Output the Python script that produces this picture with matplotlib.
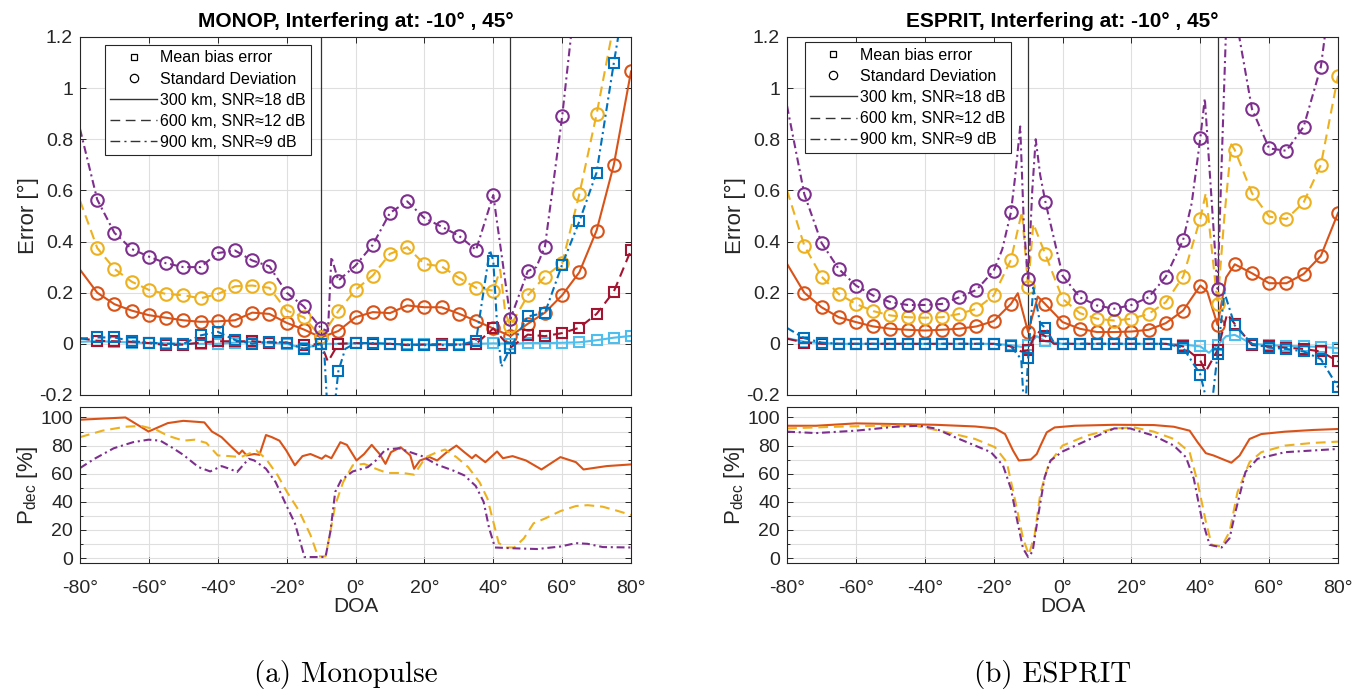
import numpy as np
import matplotlib.pyplot as plt
from matplotlib.lines import Line2D
from matplotlib.ticker import MultipleLocator, FuncFormatter

plt.rcParams['font.family'] = ['Liberation Sans', 'DejaVu Sans']
plt.rcParams['axes.unicode_minus'] = False
plt.rcParams['mathtext.default'] = 'regular'

# ---------------- Monopulse: standard deviation [deg] ----------------
mono_sd_300_x = [-80, -75, -70, -65, -60, -55, -50, -45, -40, -35, -30, -25, -20, -15, -10, -5, 0, 5, 10, 15,
                 20, 25, 30, 35, 40, 45, 50, 55, 60, 65, 70, 75, 80]
mono_sd_300_y = [0.29, 0.20, 0.155, 0.13, 0.112, 0.102, 0.092, 0.086, 0.088, 0.092, 0.122, 0.117, 0.082, 0.056,
                 0.025, 0.05, 0.104, 0.124, 0.12, 0.15, 0.143, 0.143, 0.118, 0.09, 0.06, 0.03, 0.078, 0.122,
                 0.19, 0.28, 0.443, 0.70, 1.065]

mono_sd_600_x = [-80, -75, -70, -65, -60, -55, -50, -45, -40, -35, -30, -25, -20, -15, -10, -5, 0, 5, 10, 15,
                 20, 25, 30, 35, 40, 42, 43.5, 45, 50, 55, 60, 65, 70, 75, 80]
mono_sd_600_y = [0.56, 0.375, 0.293, 0.243, 0.211, 0.195, 0.19, 0.178, 0.195, 0.225, 0.228, 0.219, 0.13, 0.104,
                 0.026, 0.128, 0.211, 0.267, 0.352, 0.378, 0.312, 0.303, 0.258, 0.219, 0.208, 0.29, 0.12,
                 0.07, 0.189, 0.263, 0.315, 0.586, 0.898, 1.25, 1.7]

mono_sd_900_x = [-80, -75, -70, -65, -60, -55, -50, -45, -40, -35, -30, -25, -20, -15, -10, -8, -7, -5, 0, 5,
                 10, 15, 20, 25, 30, 35, 40, 45, 50, 52.5, 55, 60, 65, 70, 75, 80]
mono_sd_900_y = [0.84, 0.564, 0.434, 0.371, 0.341, 0.315, 0.30, 0.30, 0.355, 0.365, 0.326, 0.303, 0.20, 0.146,
                 0.06, 0.05, 0.34, 0.247, 0.306, 0.387, 0.512, 0.557, 0.492, 0.458, 0.423, 0.367, 0.582,
                 0.098, 0.284, 0.30, 0.38, 0.889, 1.5, 2.2, 3.0, 4.0]

# ---------------- Monopulse: mean bias error [deg] ----------------
mono_b_300_x = [-80, -75, -70, -65, -60, -55, -50, -45, -40, -35, -30, -25, -20, -15, -10, -5, 0, 5, 10, 15,
                20, 25, 30, 35, 40, 45, 50, 55, 60, 65, 70, 75, 80]
mono_b_300_y = [0.008, 0.01, 0.008, 0.005, 0.003, 0.002, 0.0, 0.0, 0.0, 0.005, 0.008, 0.005, 0.0, -0.018,
                0.0, 0.0, 0.002, 0.002, 0.0, -0.002, -0.002, -0.002, -0.002, 0.0, 0.002, 0.0, 0.003, 0.003,
                0.004, 0.006, 0.014, 0.024, 0.031]

mono_b_600_x = [-80, -75, -70, -65, -60, -55, -50, -45, -40, -35, -30, -25, -20, -15, -10, -8, -5, 0, 5, 10,
                15, 20, 25, 30, 35, 40, 45, 50, 55, 60, 65, 70, 75, 80]
mono_b_600_y = [0.022, 0.012, 0.01, 0.008, 0.003, -0.005, -0.003, 0.005, 0.01, 0.01, 0.01, 0.005, 0.005,
                -0.005, 0.0, -0.07, 0.0, 0.003, 0.0, 0.0, -0.005, -0.003, -0.002, -0.003, 0.0, 0.06, -0.015,
                0.036, 0.03, 0.042, 0.063, 0.117, 0.204, 0.367]

mono_b_900_x = [-80, -75, -70, -65, -60, -55, -50, -45, -40, -35, -30, -25, -20, -15, -10, -9, -8, -6.5, -5,
                -3, 0, 5, 10, 15, 20, 25, 30, 35, 39, 40, 41, 42.3, 45, 50, 55, 60, 65, 70, 75, 80]
mono_b_900_y = [0.02, 0.025, 0.025, 0.01, 0.005, 0.0, 0.0, 0.033, 0.047, 0.015, 0.0, 0.008, 0.005, -0.02,
                0.0, -0.05, -0.3, -0.3, -0.108, -0.02, 0.003, 0.003, 0.0, -0.003, -0.005, -0.005, -0.005,
                0.012, 0.367, 0.325, 0.1, -0.09, -0.016, 0.107, 0.121, 0.31, 0.479, 0.67, 1.098, 1.5]

# ---------------- ESPRIT: standard deviation [deg] ----------------
esp_sd_300_x = [-80, -75, -70, -65, -60, -55, -50, -45, -40, -35, -30, -25, -20, -15, -13, -10, -7.2, -5, 0,
                5, 10, 15, 20, 25, 30, 35, 40, 42, 45, 47.5, 50, 55, 60, 65, 70, 75, 80]
esp_sd_300_y = [0.3125, 0.20, 0.143, 0.104, 0.085, 0.068, 0.059, 0.055, 0.052, 0.055, 0.059, 0.068, 0.089,
                0.156, 0.198, 0.046, 0.185, 0.155, 0.085, 0.059, 0.046, 0.046, 0.048, 0.055, 0.081, 0.13,
                0.228, 0.205, 0.074, 0.26, 0.311, 0.276, 0.237, 0.237, 0.273, 0.344, 0.512]

esp_sd_600_x = [-80, -75, -70, -65, -60, -55, -50, -45, -40, -35, -30, -25, -20, -15, -11.8, -10, -8.5, -5,
                0, 5, 10, 15, 20, 25, 30, 35, 40, 41.6, 45, 47, 49, 50, 55, 60, 65, 70, 75, 80]
esp_sd_600_y = [0.60, 0.384, 0.263, 0.195, 0.156, 0.128, 0.111, 0.104, 0.102, 0.104, 0.117, 0.137, 0.189,
                0.328, 0.517, 0.222, 0.47, 0.35, 0.176, 0.12, 0.098, 0.091, 0.098, 0.117, 0.163, 0.263, 0.49,
                0.59, 0.156, 0.5, 0.78, 0.758, 0.589, 0.497, 0.488, 0.553, 0.70, 1.048]

esp_sd_900_x = [-80, -75, -70, -65, -60, -55, -50, -45, -40, -35, -30, -25, -20, -17.5, -15, -13.8, -12.3,
                -11.2, -10, -8.8, -7.8, -6.5, -5, 0, 5, 10, 15, 20, 25, 30, 35, 37.5, 40, 41.3, 45, 48, 50,
                55, 60, 65, 70, 75, 80]
esp_sd_900_y = [0.93, 0.586, 0.395, 0.293, 0.228, 0.189, 0.163, 0.152, 0.152, 0.156, 0.182, 0.211, 0.286,
                0.37, 0.514, 0.65, 0.85, 0.45, 0.255, 0.60, 0.80, 0.66, 0.556, 0.267, 0.182, 0.150, 0.137,
                0.152, 0.182, 0.263, 0.406, 0.55, 0.805, 0.96, 0.215, 1.45, 1.3, 0.918, 0.764, 0.755, 0.849,
                1.083, 1.6]

# ---------------- ESPRIT: mean bias error [deg] ----------------
esp_b_300_x = [-80, -75, -70, -65, -60, -55, -50, -45, -40, -35, -30, -25, -20, -15, -12, -10, -7.5, -5, 0, 5,
               10, 15, 20, 25, 30, 35, 40, 42.5, 45, 47.5, 50, 55, 60, 65, 70, 75, 80]
esp_b_300_y = [0.022, 0.008, 0.003, 0.0, 0.0, 0.0, 0.0, 0.0, 0.0, 0.0, 0.0, 0.0, 0.0, -0.005, -0.012, -0.006,
               0.03, 0.01, 0.0, 0.0, 0.0, 0.0, 0.0, 0.0, 0.0, -0.003, -0.01, -0.035, -0.005, 0.03, 0.035, 0.0,
               -0.005, -0.008, -0.01, -0.012, -0.017]

esp_b_600_x = [-80, -75, -70, -65, -60, -55, -50, -45, -40, -35, -30, -25, -20, -15, -12, -10, -7.5, -5, -2.5,
               0, 5, 10, 15, 20, 25, 30, 35, 40, 41.5, 45, 47.8, 50, 55, 60, 65, 70, 75, 80]
esp_b_600_y = [0.02, 0.005, 0.0, 0.0, 0.0, 0.0, 0.0, 0.0, 0.0, 0.0, 0.0, 0.0, 0.0, -0.01, -0.03, -0.026,
               0.05, 0.03, 0.0, 0.0, 0.0, 0.0, 0.0, 0.0, 0.0, 0.0, -0.01, -0.065, -0.11, -0.025, 0.117, 0.078,
               -0.005, -0.01, -0.015, -0.02, -0.03, -0.069]

esp_b_900_x = [-80, -75, -70, -65, -60, -55, -50, -45, -40, -35, -30, -25, -20, -15, -12, -11, -10, -8.5,
               -6.5, -5, -2.5, 0, 5, 10, 15, 20, 25, 30, 35, 40, 41.8, 43.5, 45, 47, 50, 55, 60, 65, 70, 75, 80]
esp_b_900_y = [0.062, 0.022, 0.005, 0.0, 0.0, 0.0, 0.0, 0.0, 0.0, 0.0, 0.0, 0.0, 0.0, -0.01, -0.06, -0.3,
               -0.056, 0.22, 0.08, 0.062, 0.005, 0.0, 0.0, 0.0, 0.0, 0.0, 0.0, 0.0, -0.015, -0.12, -0.22,
               -0.22, -0.04, 0.2, 0.072, 0.0, -0.015, -0.02, -0.03, -0.06, -0.17]

# ---------------- Probability of detection [%] ----------------
mono_pd_300_x = [-80, -66.8, -60.1, -54.5, -50, -43.9, -41.7, -38.9, -36, -33.8, -32.9, -31.6, -29.4, -27.9,
                 -26, -24.3, -22.1, -20.1, -17.6, -15.4, -13.1, -9.8, -8.7, -7, -4.4, -2.5, 0.3, 2.5, 4.7, 7,
                 8.7, 10.3, 13.1, 15.9, 17, 18.7, 21.5, 23.7, 26.5, 29.3, 31.6, 33.8, 34.9, 37.7, 41.1, 42.8,
                 45.6, 49.5, 54, 59.5, 64, 66.2, 72.9, 80]
mono_pd_300_y = [98.4, 100, 90, 96, 97.6, 96.5, 90, 86, 79, 74, 76.5, 73, 74, 73.4, 87.5, 86, 83.5, 76.5, 66,
                 72.5, 74, 70.6, 73, 71, 82.4, 80.5, 69.4, 74, 80.5, 74, 67, 75.3, 78.8, 73, 63.5, 69.4, 71.8,
                 69.4, 75.3, 80, 75.3, 71, 73.4, 68.2, 75.8, 71, 72.5, 69.4, 63, 71.8, 68.2, 63, 65.4, 66.6]

mono_pd_600_x = [-80, -73.5, -66.8, -62.3, -57.9, -54.5, -50, -46.7, -43.3, -40, -36.6, -33.3, -28.8, -26,
                 -22.6, -19.9, -16.5, -13.1, -10.9, -8.7, -7.3, -5.9, -3.6, -0.8, 2.5, 5.9, 9.2, 13.7, 17,
                 20.4, 23.7, 26, 29.3, 32.7, 36, 38.3, 40, 41.6, 43.9, 46.1, 48.9, 51.7, 55.1, 59.5, 64, 67.4,
                 71.8, 76.3, 80]
mono_pd_600_y = [86, 90.6, 93.4, 94, 91.3, 87, 83.5, 84.2, 81.9, 73, 72.5, 71.8, 76.5, 70.6, 58.8, 47, 34,
                 16.5, 1.2, 1.2, 18.8, 37.6, 54, 66, 67, 63.5, 60.5, 60.5, 59.3, 71.8, 75.3, 77.2, 71.8, 64.7,
                 54, 42.4, 25.9, 10.6, 7.5, 7.5, 14, 24.7, 28.2, 33.4, 37, 37.6, 36.5, 33.4, 30.6]

mono_pd_900_x = [-80, -75.8, -70.2, -64.6, -60.1, -56.7, -53.4, -50, -45.6, -42.2, -38.9, -36.6, -34.4, -31,
                 -29.4, -26, -23.2, -19.9, -17.6, -14.8, -8.7, -7.3, -5.9, -4.2, -0.8, 3.6, 5.9, 8.7, 12.6,
                 15.9, 19.3, 23.7, 28.2, 31.6, 34.9, 37.2, 38.8, 40.5, 45, 52.8, 59.5, 64, 67.4, 71.8, 80]
mono_pd_900_y = [64, 70.6, 78.1, 82.4, 84.2, 83.5, 78.8, 73.4, 64.7, 61.6, 65.4, 63.5, 61.2, 70.6, 69.4, 63.5,
                 54, 36.5, 24.7, 0.7, 0.7, 18.8, 47, 55.3, 61.6, 64.7, 69.4, 77.2, 78.1, 75.3, 72.5, 66.4,
                 62.4, 58.8, 51.3, 40, 21.2, 7.5, 7, 6.4, 8.2, 10.6, 10.1, 7.8, 7.5]

esp_pd_300_x = [-80, -71.6, -60, -48.5, -37, -25.4, -19.6, -16.7, -14.4, -12.7, -9.2, -7.5, -6.4, -4.6, -2.3,
                3.5, 15, 26.5, 32.3, 36.9, 39.2, 41.6, 43.9, 46.2, 49, 51.4, 54.3, 57.7, 64.6, 72.7, 80]
esp_pd_300_y = [94.1, 94.1, 95.8, 95.3, 94.8, 93.6, 92.2, 88.2, 76.5, 69.4, 70.1, 74, 80, 89.4, 92.9, 94.1,
                94.8, 94.6, 93.4, 90.6, 82.4, 74.6, 72.9, 70.6, 67.8, 72.9, 84.7, 88.2, 89.9, 91.1, 91.8]

esp_pd_600_x = [-80, -65.8, -54.3, -42.7, -33.5, -25.4, -19.6, -16.2, -13.9, -11.5, -9.8, -8.1, -6.4, -4, 0,
                6.9, 15, 20.8, 26.5, 32.3, 36.9, 39.2, 41.6, 43.3, 46.2, 48.5, 50.8, 54.3, 57.7, 64.6, 72.7, 80]
esp_pd_600_y = [92.2, 93.4, 94.1, 94.1, 89.4, 84.7, 78.8, 68.2, 42.4, 14.1, 2.4, 16.5, 47, 67, 80, 87, 92.2,
                92.9, 89.9, 84.7, 75.3, 54, 25.9, 9.4, 8.2, 18.8, 47, 68.2, 75.3, 80, 81.9, 82.8]

esp_pd_900_x = [-80, -71.6, -60, -48.5, -41.6, -37, -31.2, -25.4, -20.8, -17.3, -15, -13.3, -11.5, -10, -8.7,
                -6.9, -5.2, -3.5, 0, 6.9, 15, 19.6, 26.5, 32.3, 35.8, 38.1, 40.4, 42.7, 46.2, 48.5, 50.2, 53.1,
                56.6, 64.6, 80]
esp_pd_900_y = [89.9, 88.9, 90.6, 93.4, 94.1, 92.2, 85.9, 80, 75.3, 65.9, 49.4, 28.2, 7, 0.7, 4.7, 32.9, 57.6,
                69.4, 75.8, 83.5, 92.2, 92.2, 87, 80, 71.8, 56.5, 28.2, 9.4, 7.5, 14.1, 32.9, 61.2, 70.6, 75.3,
                77.6]

interferers = [-10, 45]
doa_ticks = [-80, -60, -40, -20, 0, 20, 40, 60, 80]

# MATLAB default colour order
BLUE, ORANGE, YELLOW, PURPLE, LBLUE, DRED = '#0072BD', '#D95319', '#EDB120', '#7E2F8E', '#4DBEEE', '#A2142F'
AX_COL = '#262626'
GRID_COL = '#dfdfdf'

# MATLAB-like dash patterns (scaled by line width)
SOLID = '-'
DASHED = (0, (4.7, 2.8))
DASHDOT = (0, (3.8, 1.8, 1.0, 1.8))


def marker_mask(xs):
    # markers only on the 5 degree grid, starting at -75
    xs = np.asarray(xs, dtype=float)
    return (np.isclose(np.mod(xs, 5), 0) | np.isclose(np.mod(xs, 5), 5)) & (xs >= -75)


def style_axes(ax):
    ax.set_xlim(-80, 80)
    ax.set_xticks(doa_ticks)
    ax.grid(True, which='both', color=GRID_COL, lw=0.8)
    ax.set_axisbelow(True)
    ax.tick_params(which='both', direction='in', top=True, right=True, colors=AX_COL, labelsize=14,
                   width=0.7)
    ax.tick_params(which='major', length=4)
    ax.tick_params(which='minor', length=2.5)
    ax.tick_params(axis='y', pad=5)
    ax.tick_params(axis='x', pad=12)
    for s in ax.spines.values():
        s.set_color(AX_COL)
        s.set_linewidth(0.8)


def error_panel(ax, title, series):
    for xs, ys, col, ls, mk in series:
        ms = 9 if mk == 'o' else 6.5
        ax.plot(xs, ys, color=col, ls=ls, lw=1.5, marker=mk, ms=ms, mfc='none', mew=1.5,
                markevery=list(marker_mask(xs)))
    for xi in interferers:
        ax.axvline(xi, color='#333333', lw=0.9, zorder=1.5)
    style_axes(ax)
    ax.set_ylim(-0.2, 1.2)
    ax.set_yticks(np.arange(-0.2, 1.21, 0.2))
    ax.yaxis.set_major_formatter(FuncFormatter(lambda v, p: f'{round(v, 1):g}'))
    ax.tick_params(labelbottom=False)
    ax.set_ylabel('Error [°]', fontsize=16, color=AX_COL, labelpad=0)
    ax.set_title(title, fontsize=15, fontweight='bold', pad=7)


def pdec_panel(ax, series):
    for xs, ys, col, ls in series:
        ax.plot(xs, ys, color=col, ls=ls, lw=1.5)
    style_axes(ax)
    ax.set_ylim(-3.5, 107.5)
    ax.yaxis.set_major_locator(MultipleLocator(20))
    ax.yaxis.set_minor_locator(MultipleLocator(10))
    ax.xaxis.set_major_formatter(FuncFormatter(lambda v, p: f'{v:g}°'))
    ax.set_ylabel('P$_{dec}$ [%]', fontsize=16, color=AX_COL, labelpad=0)
    ax.set_xlabel('DOA', fontsize=15, color=AX_COL, labelpad=0)


fig = plt.figure(figsize=(13.7, 6.95), dpi=100)

ax_me = fig.add_axes([0.0584, 0.4317, 0.4022, 0.5151])
ax_mp = fig.add_axes([0.0584, 0.19, 0.4022, 0.2245])
ax_ee = fig.add_axes([0.5745, 0.4317, 0.4022, 0.5151])
ax_ep = fig.add_axes([0.5745, 0.19, 0.4022, 0.2245])

error_panel(ax_me, 'MONOP, Interfering at: -10° , 45°', [
    (mono_sd_300_x, mono_sd_300_y, ORANGE, SOLID, 'o'),
    (mono_sd_600_x, mono_sd_600_y, YELLOW, DASHED, 'o'),
    (mono_sd_900_x, mono_sd_900_y, PURPLE, DASHDOT, 'o'),
    (mono_b_300_x, mono_b_300_y, LBLUE, SOLID, 's'),
    (mono_b_600_x, mono_b_600_y, DRED, DASHED, 's'),
    (mono_b_900_x, mono_b_900_y, BLUE, DASHDOT, 's'),
])
error_panel(ax_ee, 'ESPRIT, Interfering at: -10° , 45°', [
    (esp_sd_300_x, esp_sd_300_y, ORANGE, SOLID, 'o'),
    (esp_sd_600_x, esp_sd_600_y, YELLOW, DASHED, 'o'),
    (esp_sd_900_x, esp_sd_900_y, PURPLE, DASHDOT, 'o'),
    (esp_b_300_x, esp_b_300_y, LBLUE, SOLID, 's'),
    (esp_b_600_x, esp_b_600_y, DRED, DASHED, 's'),
    (esp_b_900_x, esp_b_900_y, BLUE, DASHDOT, 's'),
])

pdec_panel(ax_mp, [
    (mono_pd_300_x, mono_pd_300_y, ORANGE, SOLID),
    (mono_pd_600_x, mono_pd_600_y, YELLOW, DASHED),
    (mono_pd_900_x, mono_pd_900_y, PURPLE, DASHDOT),
])
pdec_panel(ax_ep, [
    (esp_pd_300_x, esp_pd_300_y, ORANGE, SOLID),
    (esp_pd_600_x, esp_pd_600_y, YELLOW, DASHED),
    (esp_pd_900_x, esp_pd_900_y, PURPLE, DASHDOT),
])

# legend with generic marker / line-style keys
handles = [
    Line2D([], [], ls='none', marker='s', ms=5, mfc='none', mec='k', mew=0.9),
    Line2D([], [], ls='none', marker='o', ms=6, mfc='none', mec='k', mew=0.9),
    Line2D([], [], color='#333333', ls='-', lw=1),
    Line2D([], [], color='#333333', ls=(0, (7, 4)), lw=1),
    Line2D([], [], color='#333333', ls=(0, (7, 3, 1.5, 3)), lw=1),
]
labels = ['Mean bias error', 'Standard Deviation', '300 km, SNR≈18 dB', '600 km, SNR≈12 dB',
          '900 km, SNR≈9 dB']
for ax, anchor in [(ax_me, (0.045, 0.978)), (ax_ee, (0.032, 0.985))]:
    leg = ax.legend(handles, labels, loc='upper left', bbox_to_anchor=anchor, borderaxespad=0,
                    fontsize=11.5, handlelength=2.9, handletextpad=0.2, labelspacing=0.38,
                    borderpad=0.35, fancybox=False, framealpha=1)
    leg.get_frame().set_edgecolor(AX_COL)
    leg.get_frame().set_linewidth(0.8)

fig.text(0.2526, 0.030, '(a) Monopulse', ha='center', va='center', fontsize=21, family=['cmr10'])
fig.text(0.768, 0.030, '(b) ESPRIT', ha='center', va='center', fontsize=21, family=['cmr10'])

fig.savefig('out.png', dpi=100)
